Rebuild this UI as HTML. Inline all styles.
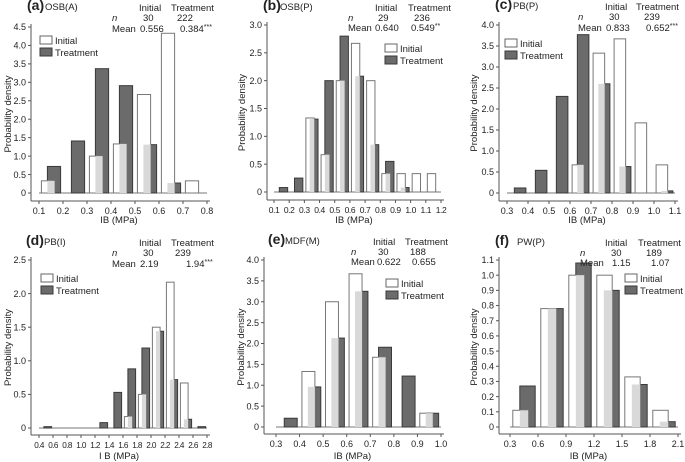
<!DOCTYPE html>
<html><head><meta charset="utf-8"><style>
html,body{margin:0;padding:0;background:#fff;}
svg{display:block;font-family:"Liberation Sans",Arial,sans-serif;}
</style></head><body>
<svg id="chart" width="685" height="462" viewBox="0 0 685 462" xmlns="http://www.w3.org/2000/svg"></svg>
<script>
// ---- data ----
const panelNames = ["a","b","c","d","e","f"];
const panelTitles = ["OSB(A)","OSB(P)","PB(P)","PB(I)","MDF(M)","PW(P)"];
const nInitial = ["30","29","30","30","30","30"];
const nTreatment = ["222","236","239","239","188","189"];
const meanInitial = ["0.556","0.640","0.833","2.19","0.622","1.15"];
const meanTreatment = ["0.384***","0.549**","0.652***","1.94***","0.655","1.07"];
const binStartA = [0.1,0.2,0.3,0.4,0.5,0.6,0.7];
const initialA = [0.33,0,1.0,1.33,2.67,4.33,0.33];
const treatmentA = [0.72,1.41,3.37,2.91,1.31,0.27,0];
const binStartB = [0.1,0.2,0.3,0.4,0.5,0.6,0.7,0.8,0.9,1.0,1.1];
const initialB = [0,0,1.33,0.67,2.0,2.67,2.0,0.33,0.33,0.33,0.33];
const treatmentB = [0.08,0.25,1.31,2.0,2.8,2.08,0.85,0.55,0.08,0,0];
const binStartC = [0.3,0.4,0.5,0.6,0.7,0.8,0.9,1.0];
const initialC = [0,0,0,0.67,3.33,3.67,1.67,0.67];
const treatmentC = [0.12,0.54,2.3,3.77,2.6,0.63,0,0.05];
const binStartD = [0.4,0.6,0.8,1.0,1.2,1.4,1.6,1.8,2.0,2.2,2.4,2.6];
const initialD = [0,0,0,0,0,0,0.17,0.5,1.5,2.17,0.67,0];
const treatmentD = [0.02,0,0,0,0.08,0.53,0.88,1.19,1.44,0.72,0.13,0.02];
const binStartE = [0.3,0.4,0.5,0.6,0.7,0.8,0.9];
const initialE = [0,1.33,3.0,3.67,1.67,0,0.33];
const treatmentE = [0.21,0.96,2.13,3.25,1.91,1.22,0.33];
const binStartF = [0.3,0.6,0.9,1.2,1.5,1.8];
const initialF = [0.11,0.78,1.0,1.0,0.33,0.11];
const treatmentF = [0.27,0.78,1.08,0.9,0.28,0.035];
const xTicksA = ["0.1","0.2","0.3","0.4","0.5","0.6","0.7","0.8"];
const yTicksA = ["0","0.5","1.0","1.5","2.0","2.5","3.0","3.5","4.0","4.5"];
const xTicksB = ["0.1","0.2","0.3","0.4","0.5","0.6","0.7","0.8","0.9","1.0","1.1","1.2"];
const yTicksB = ["0","0.5","1.0","1.5","2.0","2.5","3.0"];
const xTicksC = ["0.3","0.4","0.5","0.6","0.7","0.8","0.9","1.0","1.1"];
const yTicksC = ["0","0.5","1.0","1.5","2.0","2.5","3.0","3.5","4.0"];
const xTicksD = ["0.4","0.6","0.8","1.0","1.2","1.4","1.6","1.8","2.0","2.2","2.4","2.6","2.8"];
const yTicksD = ["0","0.5","1.0","1.5","2.0","2.5"];
const xTicksE = ["0.3","0.4","0.5","0.6","0.7","0.8","0.9","1.0"];
const yTicksE = ["0","0.5","1.0","1.5","2.0","2.5","3.0","3.5","4.0"];
const xTicksF = ["0.3","0.6","0.9","1.2","1.5","1.8","2.1"];
const yTicksF = ["0","0.1","0.2","0.3","0.4","0.5","0.6","0.7","0.8","0.9","1.0","1.1"];
const binWidths = [0.1,0.1,0.1,0.2,0.1,0.3];

// ---- layout (pixels) ----
const layouts = [
 {ax:31,y0:193,yTop:27,axisY:201,xL:39,xR:207,ox:0,oy:0,lbl:[27,45],hdr:{ini:139,tr:171,n:112,nv1:143,nv2:177,mv1:140,mv2:180,y:[11,21,32]},leg:[40,40],ylx:7,xlbl:223,xfs:9,xls:0},
 {ax:267,y0:192,yTop:25,axisY:200,xL:274,xR:441,ox:228,oy:0,lbl:[263,280],hdr:{ini:375,tr:408,n:348,nv1:378,nv2:414,mv1:375,mv2:411,y:[11,21,31]},leg:[385,48],ylx:241,xlbl:223,xfs:8.5,xls:-0.4},
 {ax:499,y0:193,yTop:25,axisY:201,xL:507,xR:675,ox:455,oy:0,lbl:[495,513],hdr:{ini:605,tr:636,n:578,nv1:609,nv2:644,mv1:606,mv2:646,y:[10,20,31]},leg:[505,43],ylx:473,xlbl:223,xfs:9,xls:0},
 {ax:31,y0:428,yTop:260,axisY:435,xL:39,xR:207,ox:0,oy:230,lbl:[26,44],hdr:{ini:139,tr:171,n:112,nv1:143,nv2:175,mv1:140,mv2:186,y:[246,256,267]},leg:[41,278],ylx:7,xlbl:459,xfs:8.2,xls:-0.6},
 {ax:264,y0:427,yTop:260,axisY:434,xL:276,xR:441,ox:228,oy:230,lbl:[268,285],hdr:{ini:373,tr:405,n:351,nv1:378,nv2:410,mv1:377,mv2:412,y:[245,255,265]},leg:[386,283],ylx:240,xlbl:459,xfs:9,xls:0},
 {ax:499,y0:427,yTop:260,axisY:434,xL:510,xR:678,ox:455,oy:230,lbl:[495,517],hdr:{ini:605,tr:638,n:580,nv1:611,nv2:646,mv1:612,mv2:651,y:[246,256,266]},leg:[625,278],ylx:473,xlbl:459,xfs:9,xls:0}
];
const bins=[binStartA,binStartB,binStartC,binStartD,binStartE,binStartF];
const inits=[initialA,initialB,initialC,initialD,initialE,initialF];
const treats=[treatmentA,treatmentB,treatmentC,treatmentD,treatmentE,treatmentF];
const xTicks=[xTicksA,xTicksB,xTicksC,xTicksD,xTicksE,xTicksF];
const yTicks=[yTicksA,yTicksB,yTicksC,yTicksD,yTicksE,yTicksF];

const svg=document.getElementById('chart');
const NS="http://www.w3.org/2000/svg";
function mk(tag,attrs,parent){const e=document.createElementNS(NS,tag);for(const k in attrs)e.setAttribute(k,attrs[k]);(parent||svg).appendChild(e);return e;}
function txt(s,x,y,size,parent,extra){const t=mk('text',Object.assign({x:x,y:y,'font-size':size,fill:'#222'},extra||{}),parent);t.textContent=s;return t;}

for(let p=0;p<6;p++){
 const L=layouts[p];
 const g=mk('g',{});
 
 
 const xs=xTicks[p].map(Number), ys=yTicks[p].map(Number);
 const xmin=xs[0],xmax=xs[xs.length-1],ymax=ys[ys.length-1];
 const X=v=>L.xL+(v-xmin)/(xmax-xmin)*(L.xR-L.xL);
 const Y=v=>L.y0-(v/ymax)*(L.y0-L.yTop);
 const ya=mk('line',{x1:L.ax,y1:L.yTop-3,x2:L.ax,y2:L.axisY,stroke:'#555','stroke-width':1},g);
  
 const xa=mk('line',{x1:L.ax,y1:L.axisY,x2:L.xR+3,y2:L.axisY,stroke:'#555','stroke-width':1},g);
  
 yTicks[p].forEach((s,i)=>{const yy=Y(ys[i]);mk('line',{x1:L.ax-3,y1:yy,x2:L.ax,y2:yy,stroke:'#555'},g);
  const t=txt(s,L.ax-5,yy+3.2,9,g,{'text-anchor':'end'});});
 xTicks[p].forEach((s,i)=>{const xx=X(xs[i]);mk('line',{x1:xx,y1:L.axisY,x2:xx,y2:L.axisY+3,stroke:'#555'},g);
  const t=txt(s,xx,L.axisY+13,L.xfs,g,{'text-anchor':'middle','letter-spacing':L.xls});});
 const b=bins[p], w=binWidths[p];
 mk('line',{x1:X(b[0]),y1:L.y0,x2:X(b[b.length-1]+w),y2:L.y0,stroke:'#777'},g);
 b.forEach((s,i)=>{
  const iv=inits[p][i], tv=treats[p][i];
  const ix1=X(s+0.1*w),ix2=X(s+0.65*w),tx1=X(s+0.35*w),tx2=X(s+0.9*w);
  if(tv>0){const r=mk('rect',{x:tx1,y:Y(tv),width:tx2-tx1,height:L.y0-Y(tv),fill:'#6b6b6b',stroke:'#3a3a3a','stroke-width':1},g);
   }
  if(iv>0){const r=mk('rect',{x:ix1,y:Y(iv),width:ix2-ix1,height:L.y0-Y(iv),fill:'#fff',stroke:'#777','stroke-width':1},g);
   
   const m=Math.min(iv,tv);
   if(m>0){mk('rect',{x:tx1,y:Y(m),width:ix2-tx1,height:L.y0-Y(m),fill:'#d9d9d9'},g);}}
 });
 const pl=txt('('+panelNames[p]+')',L.lbl[0],L.hdr.y[0]-1,14,g,{'font-weight':'bold'});
 
 const pt=txt(panelTitles[p],L.lbl[1],L.hdr.y[0]-1,9.5,g);
 
 const H=L.hdr, fs=9.5;
 txt('Initial',H.ini,H.y[0],fs,g);
 txt('Treatment',H.tr,H.y[0],fs,g);
 txt('n',H.n,H.y[1],fs,g,{'font-style':'italic'});
 txt(nInitial[p],H.nv1,H.y[1],fs,g);
 txt(nTreatment[p],H.nv2,H.y[1],fs,g);
 txt('Mean',H.n,H.y[2],fs,g);
 txt(meanInitial[p],H.mv1,H.y[2],fs,g);
 const mt=meanTreatment[p].replace(/\*+$/,''), st=meanTreatment[p].slice(mt.length);
 const t2=txt(mt,H.mv2,H.y[2],fs,g);
 if(st){const ts=document.createElementNS(NS,'tspan');ts.setAttribute('font-size',7);ts.setAttribute('dy',-3);ts.textContent=st;t2.appendChild(ts);}
 const lg=mk('g',{},g);
 
 mk('rect',{x:L.leg[0],y:L.leg[1]-4,width:12,height:8,fill:'#fff',stroke:'#666'},lg);
 txt('Initial',L.leg[0]+15,L.leg[1]+4,9.5,lg);
 mk('rect',{x:L.leg[0],y:L.leg[1]+8,width:12,height:8,fill:'#6b6b6b',stroke:'#3a3a3a'},lg);
 txt('Treatment',L.leg[0]+15,L.leg[1]+16,9.5,lg);
 const cy=(L.yTop+L.axisY)/2;
 const yt=txt('Probability density',L.ylx+4,cy,9.5,g,{'text-anchor':'middle',transform:'rotate(-90 '+(L.ylx+4)+' '+cy+')'});
 
 const xt=txt(p===3?'I B (MPa)':'IB (MPa)',(L.ax+L.xR)/2,L.xlbl,9.5,g,{'text-anchor':'middle'});
 
}
</script>
</body></html>
